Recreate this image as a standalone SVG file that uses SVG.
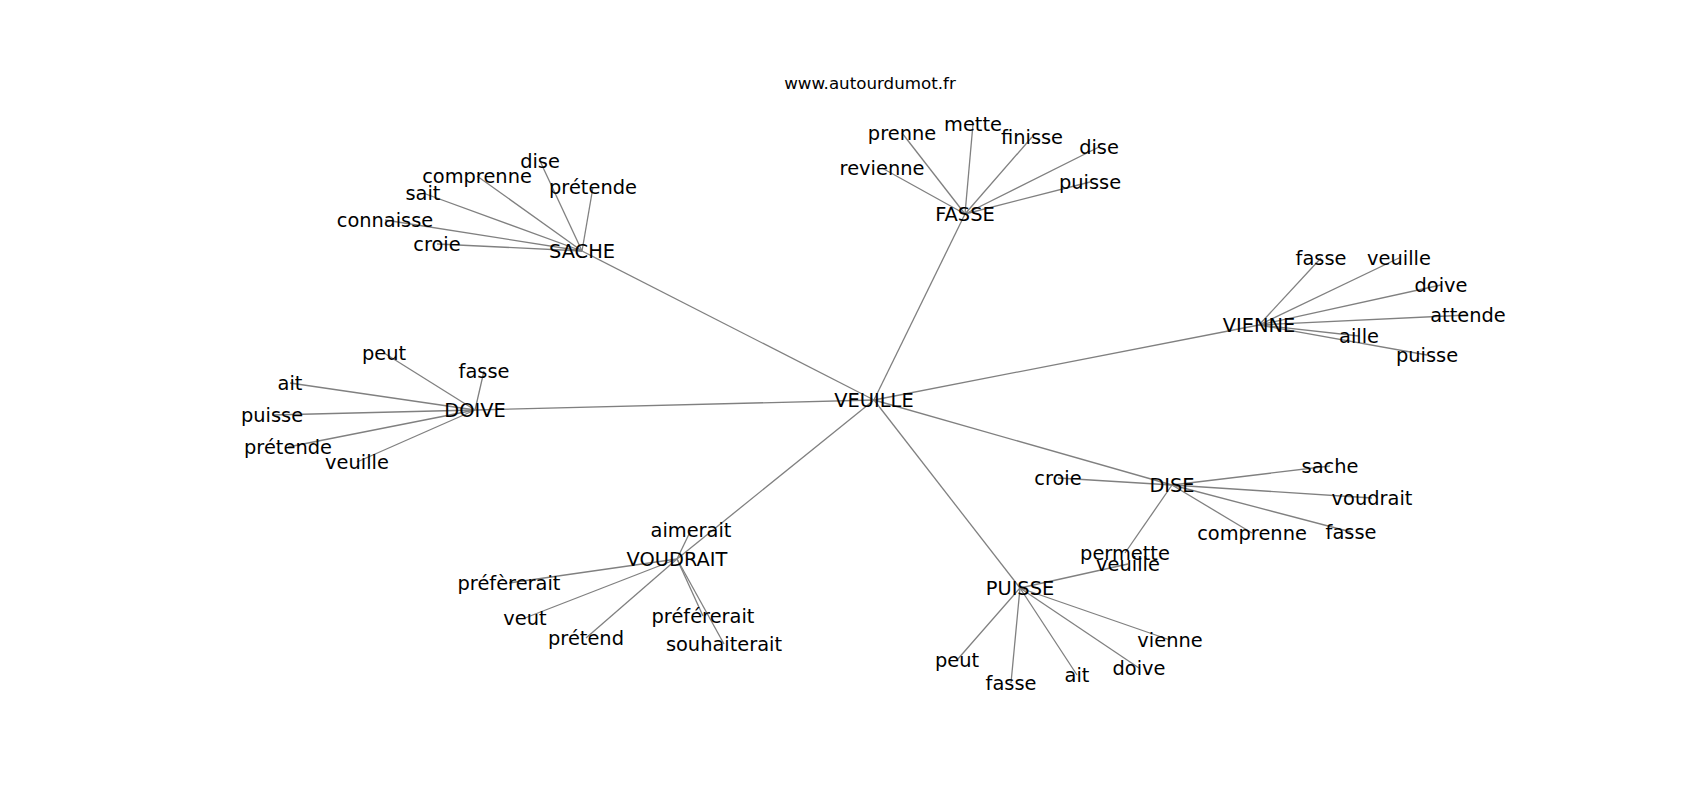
<svg xmlns="http://www.w3.org/2000/svg" width="1700" height="800" viewBox="0 0 1700 800">
<style>
text{font-family:"DejaVu Sans","Liberation Sans",sans-serif;font-size:19.4px;fill:#000;text-anchor:middle}
.title{font-size:16.7px}
#edges line{stroke:#808080;stroke-width:1.3}
</style>
<rect width="1700" height="800" fill="#fff"/>
<text class="title" x="870" y="89">www.autourdumot.fr</text>
<g id="edges">
<line x1="874" y1="400" x2="582" y2="251"/>
<line x1="874" y1="400" x2="965" y2="214"/>
<line x1="874" y1="400" x2="1259" y2="325"/>
<line x1="874" y1="400" x2="475" y2="410"/>
<line x1="874" y1="400" x2="1172" y2="485"/>
<line x1="874" y1="400" x2="1020" y2="588"/>
<line x1="874" y1="400" x2="677" y2="559"/>
<line x1="582" y1="251" x2="540" y2="161"/>
<line x1="582" y1="251" x2="477" y2="176"/>
<line x1="582" y1="251" x2="423" y2="193"/>
<line x1="582" y1="251" x2="385" y2="220"/>
<line x1="582" y1="251" x2="437" y2="244"/>
<line x1="582" y1="251" x2="593" y2="187"/>
<line x1="965" y1="214" x2="902" y2="133"/>
<line x1="965" y1="214" x2="973" y2="124"/>
<line x1="965" y1="214" x2="1032" y2="137"/>
<line x1="965" y1="214" x2="1099" y2="147"/>
<line x1="965" y1="214" x2="882" y2="168"/>
<line x1="965" y1="214" x2="1090" y2="182"/>
<line x1="1259" y1="325" x2="1321" y2="258"/>
<line x1="1259" y1="325" x2="1399" y2="258"/>
<line x1="1259" y1="325" x2="1441" y2="285"/>
<line x1="1259" y1="325" x2="1468" y2="315"/>
<line x1="1259" y1="325" x2="1359" y2="336"/>
<line x1="1259" y1="325" x2="1427" y2="355"/>
<line x1="475" y1="410" x2="384" y2="353"/>
<line x1="475" y1="410" x2="484" y2="371"/>
<line x1="475" y1="410" x2="290" y2="383"/>
<line x1="475" y1="410" x2="272" y2="415"/>
<line x1="475" y1="410" x2="288" y2="447"/>
<line x1="475" y1="410" x2="357" y2="462"/>
<line x1="1172" y1="485" x2="1058" y2="478"/>
<line x1="1172" y1="485" x2="1330" y2="466"/>
<line x1="1172" y1="485" x2="1372" y2="498"/>
<line x1="1172" y1="485" x2="1252" y2="533"/>
<line x1="1172" y1="485" x2="1351" y2="532"/>
<line x1="1172" y1="485" x2="1125" y2="553"/>
<line x1="1020" y1="588" x2="1128" y2="564"/>
<line x1="1020" y1="588" x2="957" y2="660"/>
<line x1="1020" y1="588" x2="1011" y2="683"/>
<line x1="1020" y1="588" x2="1077" y2="675"/>
<line x1="1020" y1="588" x2="1139" y2="668"/>
<line x1="1020" y1="588" x2="1170" y2="640"/>
<line x1="677" y1="559" x2="691" y2="530"/>
<line x1="677" y1="559" x2="509" y2="583"/>
<line x1="677" y1="559" x2="525" y2="618"/>
<line x1="677" y1="559" x2="586" y2="638"/>
<line x1="677" y1="559" x2="703" y2="616"/>
<line x1="677" y1="559" x2="724" y2="644"/>
</g>
<g id="veuille"><text x="874" y="407">VEUILLE</text></g>
<g id="sache"><text x="582" y="258">SACHE</text></g>
<g id="sache-dise"><text x="540" y="168">dise</text></g>
<g id="sache-comprenne"><text x="477" y="183">comprenne</text></g>
<g id="sache-sait"><text x="423" y="200">sait</text></g>
<g id="sache-connaisse"><text x="385" y="227">connaisse</text></g>
<g id="sache-croie"><text x="437" y="251">croie</text></g>
<g id="sache-pretende"><text x="593" y="194">prétende</text></g>
<g id="fasse"><text x="965" y="221">FASSE</text></g>
<g id="fasse-prenne"><text x="902" y="140">prenne</text></g>
<g id="fasse-mette"><text x="973" y="131">mette</text></g>
<g id="fasse-finisse"><text x="1032" y="144">finisse</text></g>
<g id="fasse-dise"><text x="1099" y="154">dise</text></g>
<g id="fasse-revienne"><text x="882" y="175">revienne</text></g>
<g id="fasse-puisse"><text x="1090" y="189">puisse</text></g>
<g id="vienne"><text x="1259" y="332">VIENNE</text></g>
<g id="vienne-fasse"><text x="1321" y="265">fasse</text></g>
<g id="vienne-veuille"><text x="1399" y="265">veuille</text></g>
<g id="vienne-doive"><text x="1441" y="292">doive</text></g>
<g id="vienne-attende"><text x="1468" y="322">attende</text></g>
<g id="vienne-aille"><text x="1359" y="343">aille</text></g>
<g id="vienne-puisse"><text x="1427" y="362">puisse</text></g>
<g id="doive"><text x="475" y="417">DOIVE</text></g>
<g id="doive-peut"><text x="384" y="360">peut</text></g>
<g id="doive-fasse"><text x="484" y="378">fasse</text></g>
<g id="doive-ait"><text x="290" y="390">ait</text></g>
<g id="doive-puisse"><text x="272" y="422">puisse</text></g>
<g id="doive-pretende"><text x="288" y="454">prétende</text></g>
<g id="doive-veuille"><text x="357" y="469">veuille</text></g>
<g id="dise"><text x="1172" y="492">DISE</text></g>
<g id="dise-croie"><text x="1058" y="485">croie</text></g>
<g id="dise-sache"><text x="1330" y="473">sache</text></g>
<g id="dise-voudrait"><text x="1372" y="505">voudrait</text></g>
<g id="dise-comprenne"><text x="1252" y="540">comprenne</text></g>
<g id="dise-fasse"><text x="1351" y="539">fasse</text></g>
<g id="dise-permette"><text x="1125" y="560">permette</text></g>
<g id="puisse"><text x="1020" y="595">PUISSE</text></g>
<g id="puisse-veuille"><text x="1128" y="571">veuille</text></g>
<g id="puisse-peut"><text x="957" y="667">peut</text></g>
<g id="puisse-fasse"><text x="1011" y="690">fasse</text></g>
<g id="puisse-ait"><text x="1077" y="682">ait</text></g>
<g id="puisse-doive"><text x="1139" y="675">doive</text></g>
<g id="puisse-vienne"><text x="1170" y="647">vienne</text></g>
<g id="voudrait"><text x="677" y="566">VOUDRAIT</text></g>
<g id="voudrait-aimerait"><text x="691" y="537">aimerait</text></g>
<g id="voudrait-preferait1"><text x="509" y="590">préfèrerait</text></g>
<g id="voudrait-veut"><text x="525" y="625">veut</text></g>
<g id="voudrait-pretend"><text x="586" y="645">prétend</text></g>
<g id="voudrait-preferait2"><text x="703" y="623">préférerait</text></g>
<g id="voudrait-souhaiterait"><text x="724" y="651">souhaiterait</text></g>
</svg>
